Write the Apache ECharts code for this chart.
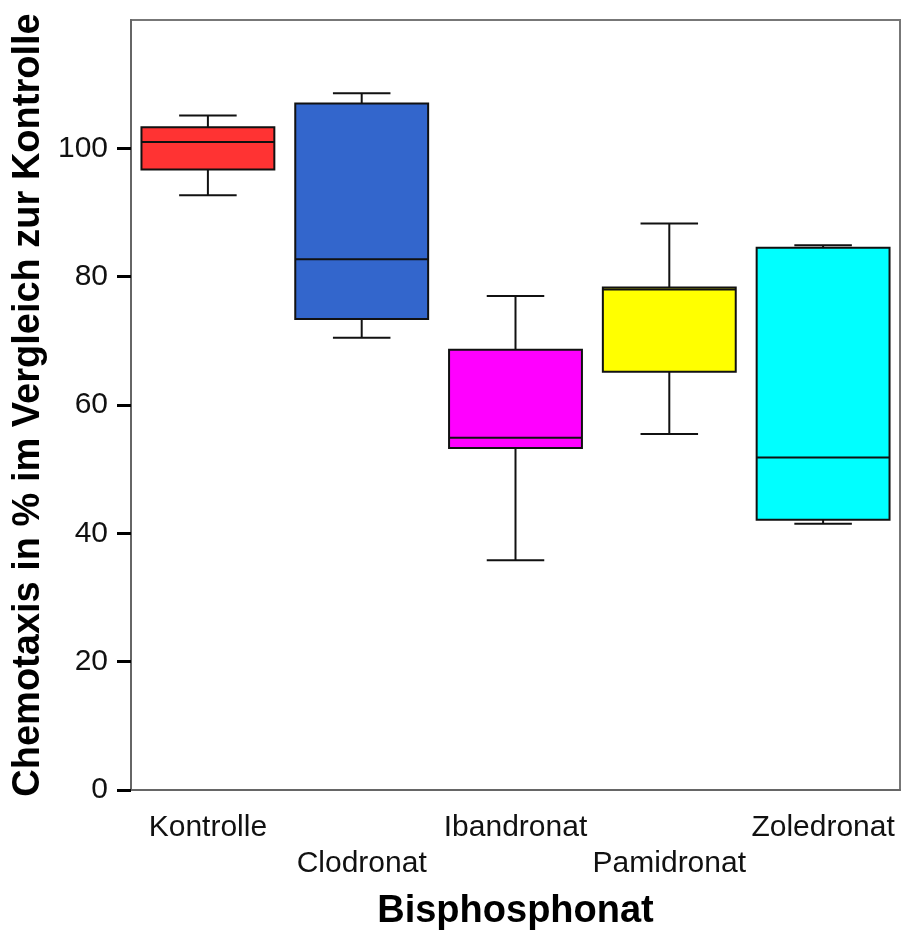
<!DOCTYPE html>
<html>
<head>
<meta charset="utf-8">
<script src="https://cdn.jsdelivr.net/npm/echarts@6/dist/echarts.min.js"></script>
<style>
  html, body { margin: 0; padding: 0; background: #fff; }
  #chart { width: 901px; height: 931px; }
</style>
</head>
<body>
<div id="chart"></div>
<script>
// Box plot: chemotaxis relative to control, per bisphosphonate
const categories = ['Kontrolle', 'Clodronat', 'Ibandronat', 'Pamidronat', 'Zoledronat'];
const whiskerLow  = [92.7, 70.5, 35.8, 55.5, 41.5];
const quartile1   = [96.7, 73.4, 53.3, 65.2, 42.1];
const medians     = [101.0, 82.7, 54.9, 78.0, 51.8];
const quartile3   = [103.3, 107.0, 68.6, 78.3, 84.5];
const whiskerHigh = [105.1, 108.6, 77.0, 88.3, 84.9];
const boxColors   = ['#FF3333', '#3366CC', '#FF00FF', '#FFFF00', '#00FFFF'];
const yTicks      = [0, 20, 40, 60, 80, 100];

const FONT = "'Liberation Sans', Arial, sans-serif";

const boxData = categories.map((c, i) => [i, whiskerLow[i], quartile1[i], medians[i], quartile3[i], whiskerHigh[i]]);

function renderBox(params, api) {
  const idx = api.value(0);
  const band = api.size([1, 0])[0];
  const boxHalf = band * 0.432;
  const capHalf = band * 0.187;
  const pLow = api.coord([idx, api.value(1)]);
  const pQ1 = api.coord([idx, api.value(2)]);
  const pMed = api.coord([idx, api.value(3)]);
  const pQ3 = api.coord([idx, api.value(4)]);
  const pHigh = api.coord([idx, api.value(5)]);
  const cx = pQ1[0];
  const line = { stroke: '#111', lineWidth: 2 };
  return {
    type: 'group',
    children: [
      { type: 'line', shape: { x1: cx, y1: pQ1[1], x2: cx, y2: pLow[1] }, style: line },
      { type: 'line', shape: { x1: cx, y1: pQ3[1], x2: cx, y2: pHigh[1] }, style: line },
      { type: 'line', shape: { x1: cx - capHalf, y1: pLow[1], x2: cx + capHalf, y2: pLow[1] }, style: line },
      { type: 'line', shape: { x1: cx - capHalf, y1: pHigh[1], x2: cx + capHalf, y2: pHigh[1] }, style: line },
      {
        type: 'rect',
        shape: { x: cx - boxHalf, y: pQ3[1], width: boxHalf * 2, height: pQ1[1] - pQ3[1] },
        style: { fill: boxColors[idx], stroke: '#111', lineWidth: 2 }
      },
      { type: 'line', shape: { x1: cx - boxHalf, y1: pMed[1], x2: cx + boxHalf, y2: pMed[1] }, style: line }
    ]
  };
}

const chart = echarts.init(document.getElementById('chart'), null, { renderer: 'canvas' });
chart.setOption({
  animation: false,
  backgroundColor: '#fff',
  grid: {
    left: 131, right: 1, top: 20, bottom: 141,
    outerBoundsMode: 'none',
    show: true, borderColor: '#777', borderWidth: 2
  },
  xAxis: {
    type: 'category',
    data: categories,
    name: 'Bisphosphonat',
    nameLocation: 'middle',
    nameGap: 103,
    nameTextStyle: { fontFamily: FONT, fontSize: 38, fontWeight: 'bold', color: '#000' },
    axisLine: { lineStyle: { color: '#666', width: 2 } },
    axisTick: { alignWithLabel: true, length: 12, lineStyle: { color: '#000', width: 3 } },
    axisLabel: {
      interval: 0,
      margin: 20,
      fontFamily: FONT, fontSize: 30, lineHeight: 36, color: '#111',
      formatter: (v, i) => (i % 2 ? '\n' + v : v)
    },
    splitLine: { show: false }
  },
  yAxis: {
    type: 'value',
    min: 0, max: 120, interval: 20,
    name: 'Chemotaxis in % im Vergleich zur Kontrolle',
    nameLocation: 'middle',
    nameGap: 81,
    nameTextStyle: { fontFamily: FONT, fontSize: 38, fontWeight: 'bold', color: '#000' },
    axisLine: { show: true, lineStyle: { color: '#666', width: 2 } },
    axisTick: { show: true, length: 14, customValues: yTicks, lineStyle: { color: '#000', width: 3 } },
    axisLabel: {
      margin: 23, customValues: yTicks,
      fontFamily: FONT, fontSize: 30, color: '#111',
      formatter: v => (v > 100 ? '' : String(v))
    },
    splitLine: { show: false }
  },
  series: [{
    type: 'custom',
    renderItem: renderBox,
    encode: { x: 0, y: [1, 2, 3, 4, 5] },
    data: boxData
  }]
});
</script>
</body>
</html>
